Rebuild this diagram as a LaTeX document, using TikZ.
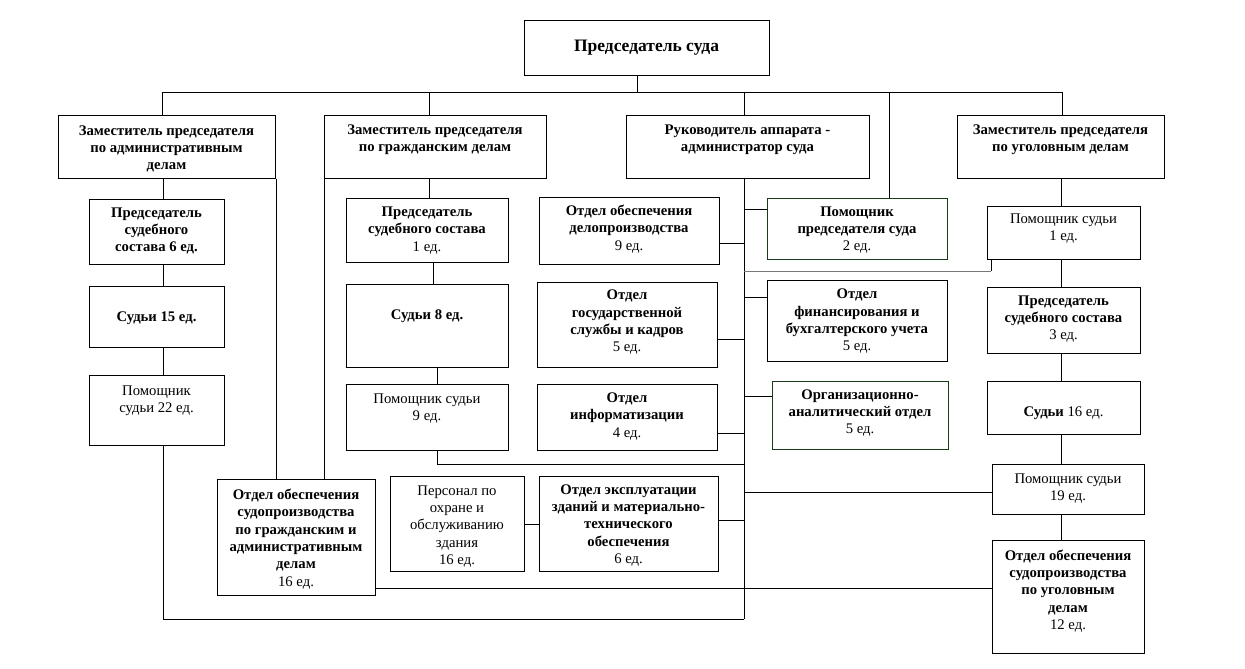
\documentclass[tikz,border=0pt]{standalone}
\usepackage{fontspec}
\setmainfont{Liberation Serif}
\definecolor{dkgreen}{RGB}{25,60,25}
\definecolor{lgray}{RGB}{120,120,120}
\tikzset{
  box/.style={draw, line width=1.1pt, inner sep=0pt, fill=white},
  gbox/.style={box, draw=dkgreen},
  txt/.style={align=center, inner sep=0pt, font=\fontsize{14.7}{17.3}\selectfont},
  ttl/.style={align=center, inner sep=0pt, font=\fontsize{17.5}{20}\selectfont\bfseries},
  ln/.style={line width=1pt},
}
\newcommand{\ubox}[6][box]{\node[#1, anchor=north west, minimum width={(#5-#3)*1pt}, minimum height={(#6-#4)*1pt}] (#2) at (#3,#4) {};}
\begin{document}
\begin{tikzpicture}[x=1pt,y=-1pt]
\useasboundingbox[fill=white] (0,0) rectangle (1245,669);
% boxes
\ubox{pred}{524}{20}{769}{75}
\ubox{zadm}{58}{115}{275}{178}
\ubox{zgr}{324}{115}{546}{178}
\ubox{ruk}{626}{115}{869}{178}
\ubox{zug}{957}{115}{1164}{178}
\ubox{ps6}{89}{199}{224}{264}
\ubox{s15}{89}{286}{224}{347}
\ubox{p22}{89}{375}{224}{445}
\ubox{ps1}{346}{198}{508}{262}
\ubox{s8}{346}{284}{508}{367}
\ubox{p9}{346}{384}{508}{450}
\ubox{od}{539}{197}{719}{264}
\ubox{ogs}{537}{282}{717}{367}
\ubox{oi}{537}{384}{717}{450}
\ubox{pers}{390}{476}{524}{571}
\ubox{oe}{539}{476}{718}{571}
\ubox{ogr}{217}{479}{375}{595}
\ubox[gbox]{pompred}{767}{198}{947}{259}
\ubox{ofin}{767}{280}{947}{361}
\ubox[gbox]{oa}{772}{381}{948}{449}
\ubox{p1}{987}{206}{1140}{259}
\ubox{ps3}{987}{287}{1140}{353}
\ubox{s16}{987}{381}{1140}{434}
\ubox{p19}{992}{464}{1144}{514}
\ubox{oug}{992}{540}{1144}{653}
% texts
\node[ttl] (predT) at (646.5,48) {Председатель суда};
\node[txt] (zadmT) at (166.5,149) {\bfseries Заместитель председателя\\\bfseries по административным\\\bfseries делам};
\node[txt] (zgrT) at (435,140) {\bfseries Заместитель председателя\\\bfseries по гражданским делам};
\node[txt] (rukT) at (747.5,140) {\bfseries Руководитель аппарата -\\\bfseries администратор суда};
\node[txt] (zugT) at (1060.5,140) {\bfseries Заместитель председателя\\\bfseries по уголовным делам};
\node[txt] (ps6T) at (156.5,231) {\bfseries Председатель\\\bfseries судебного\\\bfseries состава 6 ед.};
\node[txt] (s15T) at (156.5,318) {\bfseries Судьи 15 ед.};
\node[txt] (p22T) at (156.5,401) {Помощник\\судьи 22 ед.};
\node[txt] (ps1T) at (427,230.5) {\bfseries Председатель\\\bfseries судебного состава\\\mdseries 1 ед.};
\node[txt] (s8T) at (427,316) {\bfseries Судьи 8 ед.};
\node[txt] (p9T) at (427,408.5) {Помощник судьи\\9 ед.};
\node[txt] (odT) at (629,229) {\bfseries Отдел обеспечения\\\bfseries делопроизводства\\\mdseries 9 ед.};
\node[txt] (ogsT) at (627,322.5) {\bfseries Отдел\\\bfseries государственной\\\bfseries службы и кадров\\\mdseries 5 ед.};
\node[txt] (oiT) at (627,416.5) {\bfseries Отдел\\\bfseries информатизации\\\mdseries 4 ед.};
\node[txt] (persT) at (457,526.5) {Персонал по\\охране и\\обслуживанию\\здания\\16 ед.};
\node[txt] (oeT) at (628.5,525.5) {\bfseries Отдел эксплуатации\\\bfseries зданий и материально-\\\bfseries технического\\\bfseries обеспечения\\\mdseries 6 ед.};
\node[txt] (ogrT) at (296,539) {\bfseries Отдел обеспечения\\\bfseries судопроизводства\\\bfseries по гражданским и\\\bfseries административным\\\bfseries делам\\\mdseries 16 ед.};
\node[txt] (pompredT) at (857,230) {\bfseries Помощник\\\bfseries председателя суда\\\mdseries 2 ед.};
\node[txt] (ofinT) at (857,321.5) {\bfseries Отдел\\\bfseries финансирования и\\\bfseries бухгалтерского учета\\\mdseries 5 ед.};
\node[txt] (oaT) at (860,413) {\bfseries Организационно-\\\bfseries аналитический отдел\\\mdseries 5 ед.};
\node[txt] (p1T) at (1063.5,228.5) {Помощник судьи\\1 ед.};
\node[txt] (ps3T) at (1063.5,319) {\bfseries Председатель\\\bfseries судебного состава\\\mdseries 3 ед.};
\node[txt] (s16T) at (1063.5,413) {\textbf{Судьи} 16 ед.};
\node[txt] (p19T) at (1068,488.5) {Помощник судьи\\19 ед.};
\node[txt] (ougT) at (1068,591) {\bfseries Отдел обеспечения\\\bfseries судопроизводства\\\bfseries по уголовным\\\bfseries делам\\\mdseries 12 ед.};
% coordinates
\coordinate (busL) at (162,92);
\coordinate (busR) at (1062,92);
\coordinate (tP) at (637,92);
\coordinate (tG) at (429,92);
\coordinate (tR) at (744,92);
\coordinate (tPP) at (889,92);
\coordinate (xA) at (163,0);
\coordinate (xG1) at (429,0);
\coordinate (xG2) at (433,0);
\coordinate (xG3) at (437,0);
\coordinate (xB) at (744,0);
\coordinate (xU) at (1061,0);
\coordinate (bl) at (163,619);
\coordinate (br) at (744,619);
\coordinate (gA) at (437,464);
\coordinate (gB) at (744,464);
\coordinate (yOD) at (0,243);
\coordinate (yOGS) at (0,339);
\coordinate (yOI) at (0,433);
\coordinate (yOE) at (0,520);
\coordinate (yPO) at (0,524);
\coordinate (yPP) at (0,209);
\coordinate (yFin) at (0,297);
\coordinate (yOA) at (0,396);
\coordinate (yP19) at (0,492);
\coordinate (yUG) at (0,588);
\coordinate (hA) at (744,271);
\coordinate (hB) at (991,271);
% connectors
\draw[ln] (busL) -- (busR);
\draw[ln] (pred.south -| tP) -- (tP);
\draw[ln] (busL) -- (busL |- zadm.north);
\draw[ln] (tG) -- (tG |- zgr.north);
\draw[ln] (tR) -- (tR |- ruk.north);
\draw[ln] (busR) -- (busR |- zug.north);
\draw[ln] (tPP) -- (tPP |- pompred.north);
% admin column
\draw[ln] (zadm.south -| xA) -- (ps6.north -| xA);
\draw[ln] (ps6.south -| xA) -- (s15.north -| xA);
\draw[ln] (s15.south -| xA) -- (p22.north -| xA);
\draw[ln] (p22.south -| xA) -- (bl) -- (br);
\draw[ln] (zadm.south east) -- (ogr.north -| zadm.south east);
\draw[ln] (zgr.south west) -- (ogr.north -| zgr.south west);
% civil column
\draw[ln] (zgr.south -| xG1) -- (ps1.north -| xG1);
\draw[ln] (ps1.south -| xG2) -- (s8.north -| xG2);
\draw[ln] (s8.south -| xG3) -- (p9.north -| xG3);
\draw[ln] (p9.south -| xG3) -- (gA) -- (gB);
% apparatus bus
\draw[ln] (ruk.south -| xB) -- (br);
\draw[ln] (od.east |- yOD) -- (xB |- yOD);
\draw[ln] (ogs.east |- yOGS) -- (xB |- yOGS);
\draw[ln] (oi.east |- yOI) -- (xB |- yOI);
\draw[ln] (oe.east |- yOE) -- (xB |- yOE);
\draw[ln] (pers.east |- yPO) -- (oe.west |- yPO);
\draw[ln] (xB |- yPP) -- (pompred.west |- yPP);
\draw[ln] (xB |- yFin) -- (ofin.west |- yFin);
\draw[ln] (xB |- yOA) -- (oa.west |- yOA);
\draw[ln] (xB |- yP19) -- (p19.west |- yP19);
\draw[ln] (ogr.east |- yUG) -- (oug.west |- yUG);
\draw[ln, draw=lgray] (hA) -- (hB);
\draw[ln] (hB) -- (p1.south -| hB);
% criminal column
\draw[ln] (zug.south -| xU) -- (p1.north -| xU);
\draw[ln] (p1.south -| xU) -- (ps3.north -| xU);
\draw[ln] (ps3.south -| xU) -- (s16.north -| xU);
\draw[ln] (s16.south -| xU) -- (p19.north -| xU);
\draw[ln] (p19.south -| xU) -- (oug.north -| xU);
\end{tikzpicture}
\end{document}
